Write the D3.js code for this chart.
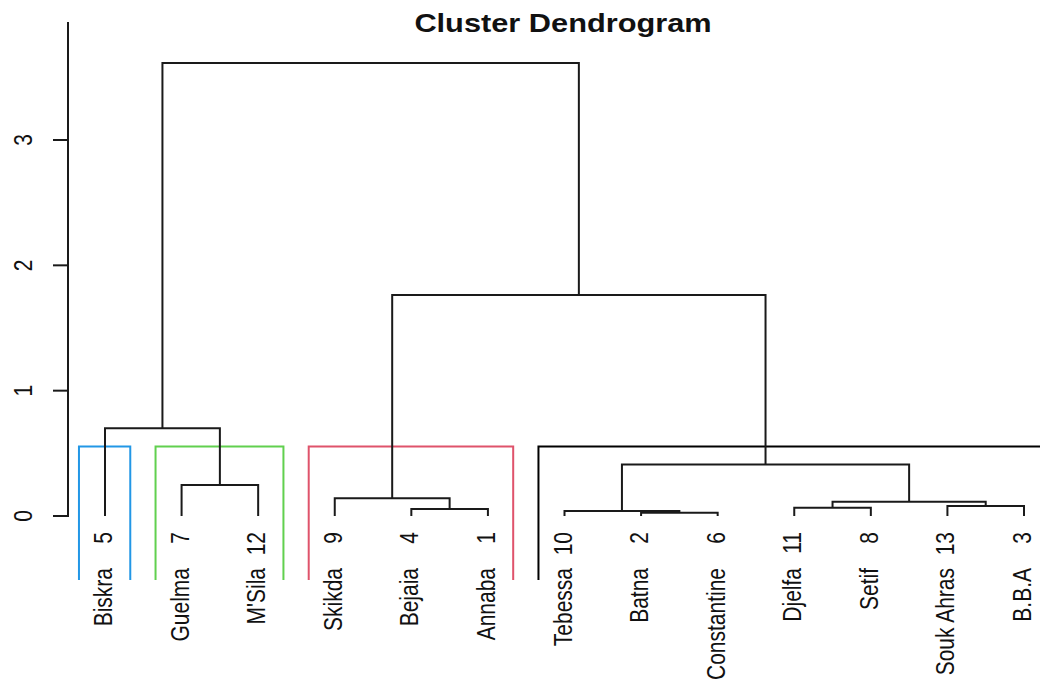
<!DOCTYPE html>
<html>
<head>
<meta charset="utf-8">
<script src="https://cdn.jsdelivr.net/npm/d3@7"></script>
<style>
  html, body { margin: 0; padding: 0; background: #fff; }
  svg { display: block; }
</style>
</head>
<body>
<svg id="chart"></svg>
<script>
"use strict";

// leaves, left to right, with their row ids
var leafNames = ["Biskra", "Guelma", "M'Sila", "Skikda", "Bejaia", "Annaba", "Tebessa",
  "Batna", "Constantine", "Djelfa", "Setif", "Souk Ahras", "B.B.A"];
var leafIds = [5, 7, 12, 9, 4, 1, 10, 2, 6, 11, 8, 13, 3];

// merges: negative = leaf (1-based position in leafNames), positive = earlier merge
var mergeLeft  = [-8, -7, -5, -10, -12, 4, -4, -2, 2, -1, 7, 10];
var mergeRight = [-9,  1, -6, -11, -13, 5,  3, -3, 6,  8, 9, 11];
var mergeHeight = [0.025, 0.04, 0.056, 0.066, 0.08, 0.114, 0.141, 0.247, 0.41, 0.70, 1.764, 3.615];

// rect.hclust, k = 4
var clusterFirst = ["Biskra", "Guelma", "Skikda", "Tebessa"];
var clusterLast = ["Biskra", "M'Sila", "Annaba", "B.B.A"];
var clusterColors = ["#2297E6", "#61D04F", "#DF536B", "#000000"];

var yTicks = [0, 1, 2, 3];

var W = 1040, H = 688;
var sx = 1.23; // picture is stretched horizontally

var svg = d3.select("#chart").attr("width", W).attr("height", H);

var x = d3.scalePoint().domain(leafNames).range([105, 1024]);
var y = d3.scaleLinear().domain([0, 3]).range([516, 140]);
var step = x.step();

// build tree from merge table
var nodes = [];
function getNode(i) {
  if (i < 0) {
    var name = leafNames[-i - 1];
    return { name: name, height: 0, x: x(name) };
  }
  return nodes[i - 1];
}
for (var m = 0; m < mergeLeft.length; m++) {
  var a = getNode(mergeLeft[m]), b = getNode(mergeRight[m]);
  nodes.push({ height: mergeHeight[m], children: [a, b], x: (a.x + b.x) / 2 });
}

// cluster rectangles
var rectTop = y((mergeHeight[mergeHeight.length - 3] + mergeHeight[mergeHeight.length - 4]) / 2);
var rectBottom = 580;
svg.append("g").selectAll("path")
  .data(clusterFirst)
  .enter().append("path")
  .attr("fill", "none")
  .attr("stroke-width", 2)
  .attr("stroke", function (d, i) { return clusterColors[i]; })
  .attr("d", function (d, i) {
    var l = x(d) - 0.34 * step, r = x(clusterLast[i]) + 0.33 * step;
    return "M" + l + "," + rectBottom + "V" + rectTop + "H" + r + "V" + rectBottom;
  });

// dendrogram links
var g = svg.append("g")
  .attr("fill", "none")
  .attr("stroke", "#1a1a1a")
  .attr("stroke-width", 2);

nodes.forEach(function (n) {
  var c0 = n.children[0], c1 = n.children[1];
  g.append("path")
    .attr("d", "M" + c0.x + "," + y(c0.height) + "V" + y(n.height) +
      "H" + c1.x + "V" + y(c1.height));
});

// y axis
var axis = svg.append("g").attr("stroke", "#1a1a1a").attr("stroke-width", 2);
axis.append("line").attr("x1", 68).attr("x2", 68).attr("y1", y(0) + 1).attr("y2", 22);
axis.selectAll(".tick")
  .data(yTicks)
  .enter().append("line")
  .attr("x1", 53).attr("x2", 68)
  .attr("y1", function (d) { return y(d); })
  .attr("y2", function (d) { return y(d); });

svg.append("g").selectAll("text")
  .data(yTicks)
  .enter().append("text")
  .attr("transform", function (d) {
    return "translate(32," + y(d) + ") scale(" + sx + ",1) rotate(-90)";
  })
  .attr("text-anchor", "middle")
  .attr("font-family", "Liberation Sans, Arial, sans-serif")
  .attr("font-size", 21)
  .attr("fill", "#111")
  .text(function (d) { return d; });

// leaf labels
var labels = svg.append("g")
  .attr("font-family", "Liberation Sans, Arial, sans-serif")
  .attr("font-size", 21)
  .attr("fill", "#111")
  .attr("text-anchor", "end");

labels.selectAll(".num")
  .data(leafNames)
  .enter().append("text")
  .attr("transform", function (d) {
    return "translate(" + (x(d) + 7) + ",532) scale(" + sx + ",1) rotate(-90)";
  })
  .text(function (d, i) { return leafIds[i]; });

labels.selectAll(".name")
  .data(leafNames)
  .enter().append("text")
  .attr("transform", function (d) {
    return "translate(" + (x(d) + 7) + ",568) scale(" + sx + ",1) rotate(-90)";
  })
  .text(function (d) { return d; });

// title
svg.append("text")
  .attr("transform", "translate(563,32) scale(" + sx + ",1)")
  .attr("text-anchor", "middle")
  .attr("font-family", "Liberation Sans, Arial, sans-serif")
  .attr("font-weight", "bold")
  .attr("font-size", 25)
  .attr("fill", "#111")
  .text("Cluster Dendrogram");
</script>
</body>
</html>
